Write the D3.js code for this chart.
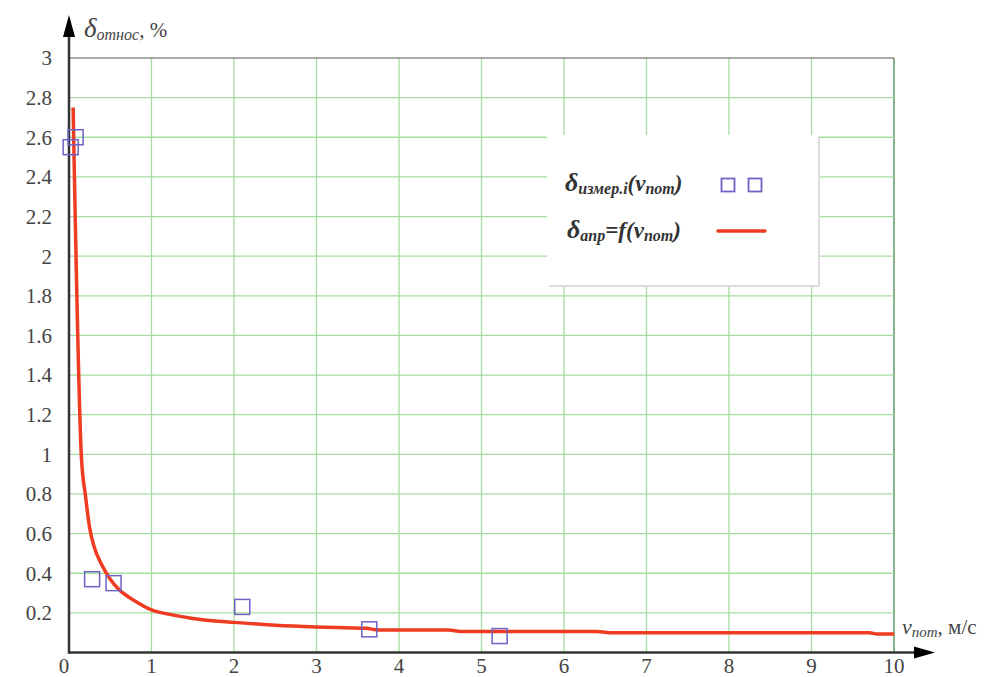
<!DOCTYPE html>
<html>
<head>
<meta charset="utf-8">
<script src="https://cdn.jsdelivr.net/npm/d3@7"></script>
<style>
  body { margin: 0; background: #fff; }
</style>
</head>
<body>
<div id="chart"></div>
<script>
// measured points (squares)
const measuredX = [0.02, 0.08, 0.28, 0.54, 2.10, 3.64, 5.22];
const measuredY = [2.55, 2.60, 0.37, 0.35, 0.23, 0.117, 0.083];

// approximation curve
const approxX = [0.05, 0.15, 0.2, 0.25, 0.3, 0.4, 0.5, 0.6, 0.8, 1.0, 1.25, 1.5, 2.0, 2.5, 3.0, 3.6, 3.75, 4.6, 4.75, 6.4, 6.55, 9.7, 9.8, 10];
const approxY = [2.75, 0.99, 0.79, 0.63, 0.54, 0.44, 0.37, 0.32, 0.26, 0.215, 0.19, 0.172, 0.152, 0.138, 0.129, 0.122, 0.114, 0.114, 0.106, 0.106, 0.100, 0.100, 0.093, 0.093];

const xTicks = [0, 1, 2, 3, 4, 5, 6, 7, 8, 9, 10];
const yTicks = [0.2, 0.4, 0.6, 0.8, 1, 1.2, 1.4, 1.6, 1.8, 2, 2.2, 2.4, 2.6, 2.8, 3];

const width = 991, height = 677;
const x = d3.scaleLinear().domain([0, 10]).range([69, 894]);
const y = d3.scaleLinear().domain([0, 3]).range([652.5, 58]);

const svg = d3.select("#chart").append("svg")
    .attr("width", width)
    .attr("height", height)
    .attr("font-family", "'Liberation Serif', 'Times New Roman', Times, serif");

// grid
const grid = svg.append("g");
grid.selectAll("line.v")
    .data(xTicks.filter(d => d > 0))
    .join("line")
    .attr("x1", d => x(d)).attr("x2", d => x(d))
    .attr("y1", y(0)).attr("y2", y(3))
    .attr("stroke", d => d === 10 ? "#5e9a66" : "#a6dca0")
    .attr("stroke-width", d => d === 10 ? 1.5 : 1.3);
grid.selectAll("line.h")
    .data(yTicks)
    .join("line")
    .attr("x1", x(0)).attr("x2", x(10))
    .attr("y1", d => y(d)).attr("y2", d => y(d))
    .attr("stroke", d => d === 3 ? "#555" : "#a6dca0")
    .attr("stroke-width", d => d === 3 ? 1.2 : 1.3);

// axes with arrows
svg.append("line")
    .attr("x1", x(0)).attr("x2", x(0))
    .attr("y1", y(0) + 1).attr("y2", 30)
    .attr("stroke", "#333").attr("stroke-width", 2.5);
svg.append("path")
    .attr("d", `M${x(0)},15 L${x(0) - 6},37 L${x(0) + 6},37 Z`)
    .attr("fill", "#000");
svg.append("line")
    .attr("x1", x(0) - 1).attr("x2", 920)
    .attr("y1", y(0)).attr("y2", y(0))
    .attr("stroke", "#333").attr("stroke-width", 2.5);
svg.append("path")
    .attr("d", `M935,${y(0)} L914,${y(0) - 6} L914,${y(0) + 6} Z`)
    .attr("fill", "#000");

// tick labels
svg.append("g").selectAll("text")
    .data(yTicks)
    .join("text")
    .attr("x", 52)
    .attr("y", d => y(d))
    .attr("dy", "0.35em")
    .attr("text-anchor", "end")
    .attr("font-size", 21)
    .attr("fill", "#444")
    .text(d => d);
svg.append("g").selectAll("text")
    .data(xTicks)
    .join("text")
    .attr("x", d => d === 0 ? x(d) - 5 : x(d))
    .attr("y", 673)
    .attr("text-anchor", "middle")
    .attr("font-size", 21)
    .attr("fill", "#444")
    .text(d => d);

// axis titles
const yTitle = svg.append("text")
    .attr("x", 84).attr("y", 37)
    .attr("fill", "#444");
yTitle.append("tspan").attr("font-size", 27).attr("font-style", "italic").text("δ");
yTitle.append("tspan").attr("font-size", 16).attr("font-style", "italic").attr("dy", 3).text("относ");
yTitle.append("tspan").attr("font-size", 21).attr("dy", -3).text(", %");

const xTitle = svg.append("text")
    .attr("x", 902).attr("y", 634)
    .attr("fill", "#444");
xTitle.append("tspan").attr("font-size", 22).attr("font-style", "italic").text("v");
xTitle.append("tspan").attr("font-size", 15).attr("font-style", "italic").attr("dy", 3).text("пот");
xTitle.append("tspan").attr("font-size", 21).attr("dy", -3).text(", м/с");

// approximation curve
const line = d3.line()
    .x((d, i) => x(approxX[i]))
    .y((d, i) => y(approxY[i]))
    .curve(d3.curveMonotoneX);
svg.append("path")
    .datum(approxY)
    .attr("d", line)
    .attr("fill", "none")
    .attr("stroke", "#ee3b22")
    .attr("stroke-width", 3.5)
    .attr("stroke-linejoin", "round");

// measured squares
const sq = 15;
svg.append("g").selectAll("rect")
    .data(measuredY)
    .join("rect")
    .attr("x", (d, i) => x(measuredX[i]) - sq / 2)
    .attr("y", d => y(d) - sq / 2)
    .attr("width", sq).attr("height", sq)
    .attr("fill", "none")
    .attr("stroke", "#6d63c4")
    .attr("stroke-width", 1.5);

// legend
const legend = svg.append("g").attr("transform", "translate(547,135)");
legend.append("rect")
    .attr("x", 2).attr("y", 2).attr("width", 271).attr("height", 150)
    .attr("fill", "#dcdcdc");
legend.append("rect")
    .attr("width", 271).attr("height", 150)
    .attr("fill", "#fff");

const t1 = legend.append("text").attr("x", 18).attr("y", 56)
    .attr("font-weight", "bold").attr("font-style", "italic").attr("fill", "#333");
t1.append("tspan").attr("font-size", 26).text("δ");
t1.append("tspan").attr("font-size", 16).attr("dy", 3).text("измер.i");
t1.append("tspan").attr("font-size", 23).attr("dy", -3).text("(v");
t1.append("tspan").attr("font-size", 16).attr("dy", 3).text("пот");
t1.append("tspan").attr("font-size", 23).attr("dy", -3).text(")");

const t2 = legend.append("text").attr("x", 20).attr("y", 103)
    .attr("font-weight", "bold").attr("font-style", "italic").attr("fill", "#333");
t2.append("tspan").attr("font-size", 26).text("δ");
t2.append("tspan").attr("font-size", 16).attr("dy", 3).text("апр");
t2.append("tspan").attr("font-size", 23).attr("dy", -3).text("=f(v");
t2.append("tspan").attr("font-size", 16).attr("dy", 3).text("пот");
t2.append("tspan").attr("font-size", 23).attr("dy", -3).text(")");

[181, 208].forEach(cx => {
    legend.append("rect")
        .attr("x", cx - 6.5).attr("y", 43.5)
        .attr("width", 13).attr("height", 13)
        .attr("fill", "none")
        .attr("stroke", "#6d63c4")
        .attr("stroke-width", 1.8);
});
legend.append("line")
    .attr("x1", 171).attr("x2", 218)
    .attr("y1", 96).attr("y2", 96)
    .attr("stroke", "#ee3b22")
    .attr("stroke-width", 3.5)
    .attr("stroke-linecap", "round");
</script>
</body>
</html>
